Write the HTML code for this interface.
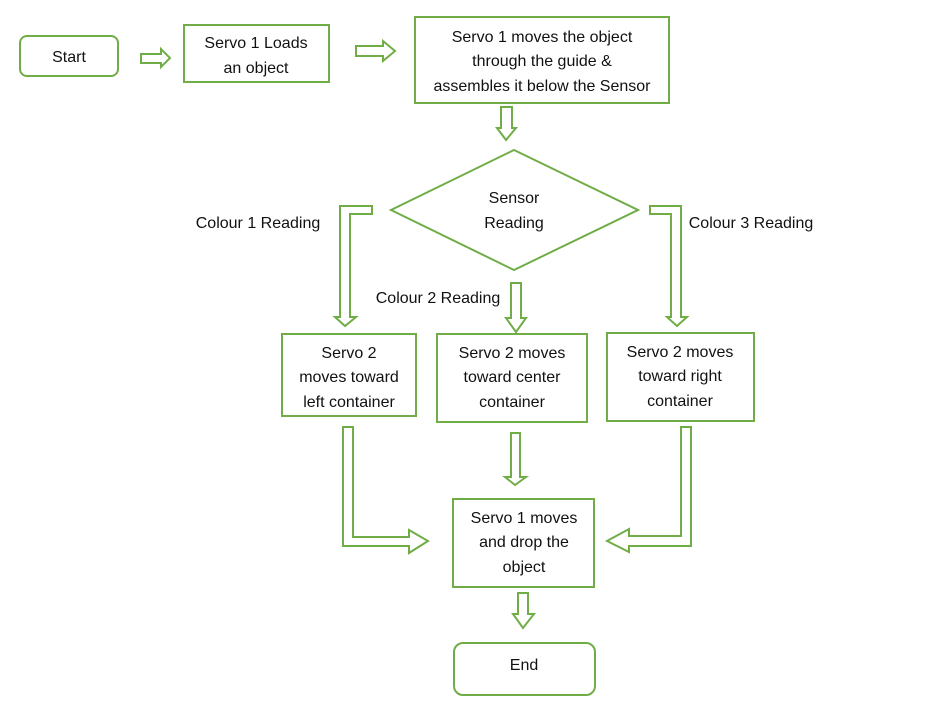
<!DOCTYPE html>
<html><head><meta charset="utf-8"><style>
html,body{margin:0;padding:0;background:#fff;}
svg{display:block}
text{font-family:"Liberation Sans",sans-serif;font-size:16px;fill:#111;text-anchor:middle}
.s{fill:none;stroke:#70ad47;stroke-width:2}
.a{fill:#fff;stroke:#70ad47;stroke-width:2;stroke-linejoin:miter}
</style></head><body>
<svg width="930" height="711" viewBox="0 0 930 711">
<rect class="s" x="20" y="36" width="98" height="40" rx="7"/>
<text x="69" y="62">Start</text>
<rect class="s" x="184" y="25" width="145" height="57"/>
<text x="256" y="48">Servo 1 Loads</text>
<text x="256" y="73">an object</text>
<rect class="s" x="415" y="17" width="254" height="86"/>
<text x="542" y="42">Servo 1 moves the object</text>
<text x="542" y="66">through the guide &amp;</text>
<text x="542" y="91">assembles it below the Sensor</text>
<polygon class="s" points="514,150 638,210 514,270 391,210"/>
<text x="514" y="203">Sensor</text>
<text x="514" y="228">Reading</text>
<text x="258" y="228">Colour 1 Reading</text>
<text x="438" y="303">Colour 2 Reading</text>
<text x="751" y="228">Colour 3 Reading</text>
<rect class="s" x="282" y="334" width="134" height="82"/>
<text x="349" y="358">Servo 2</text>
<text x="349" y="382">moves toward</text>
<text x="349" y="407">left container</text>
<rect class="s" x="437" y="334" width="150" height="88"/>
<text x="512" y="358">Servo 2 moves</text>
<text x="512" y="382">toward center</text>
<text x="512" y="407">container</text>
<rect class="s" x="607" y="333" width="147" height="88"/>
<text x="680" y="357">Servo 2 moves</text>
<text x="680" y="381">toward right</text>
<text x="680" y="406">container</text>
<rect class="s" x="453" y="499" width="141" height="88"/>
<text x="524" y="523">Servo 1 moves</text>
<text x="524" y="547">and drop the</text>
<text x="524" y="572">object</text>
<rect class="s" x="454" y="643" width="141" height="52" rx="9"/>
<text x="524" y="670">End</text>
<polygon class="a" points="141,54 161,54 161,49 170,58 161,67 161,63 141,63"/>
<polygon class="a" points="356,46 383,46 383,41 395,51 383,61 383,56 356,56"/>
<polygon class="a" points="501,107 512,107 512,128 516,128 506,140 497,128 501,128"/>
<polygon class="a" points="372,206 372,214 350,214 350,317 356,317 345,326 335,317 340,317 340,206"/>
<polygon class="a" points="650,206 650,214 671,214 671,317 667,317 677,326 687,317 681,317 681,206"/>
<polygon class="a" points="511,283 521,283 521,318 526,318 516,332 506,318 511,318"/>
<polygon class="a" points="343,427 353,427 353,537 409,537 409,530 428,541 409,553 409,546 343,546"/>
<polygon class="a" points="691,427 681,427 681,536 629,536 629,529 607,541 629,552 629,546 691,546"/>
<polygon class="a" points="511,433 520,433 520,477 526,477 515,485 505,477 511,477"/>
<polygon class="a" points="518,593 528,593 528,614 534,614 523,628 513,614 518,614"/>
</svg>
</body></html>
